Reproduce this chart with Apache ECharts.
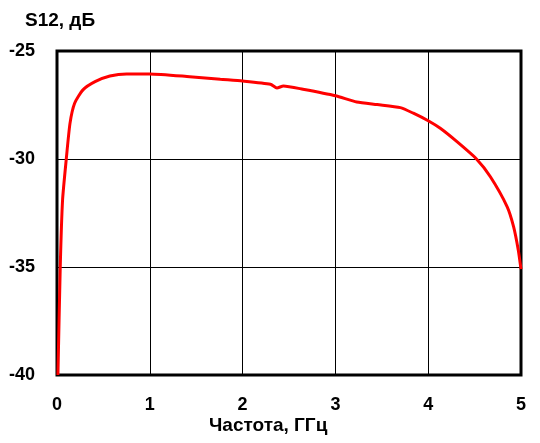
<!DOCTYPE html>
<html>
<head>
<meta charset="utf-8">
<script src="https://cdn.jsdelivr.net/npm/echarts@6/dist/echarts.min.js"></script>
<style>
  html, body { margin: 0; padding: 0; background: #fff; }
  #chart { width: 540px; height: 443px; }
</style>
</head>
<body>
<div id="chart"></div>
<script>
var freq = [0.01, 0.035, 0.06, 0.1, 0.14, 0.19, 0.28, 0.41, 0.57, 0.75, 1.0, 1.43, 1.76, 2.0, 2.3, 2.37, 2.44, 2.65, 3.0, 3.23, 3.45, 3.7, 3.84, 4.0, 4.13, 4.31, 4.52, 4.67, 4.85, 4.92, 4.97, 5.0];
var s12 = [-40, -35, -31.9, -30, -28.35, -27.42, -26.8, -26.42, -26.16, -26.06, -26.06, -26.19, -26.31, -26.39, -26.54, -26.71, -26.62, -26.77, -27.07, -27.36, -27.48, -27.62, -27.88, -28.23, -28.58, -29.2, -30.0, -30.82, -32.2, -33.13, -34.2, -35.1];

var points = [];
for (var i = 0; i < freq.length; i++) {
    points.push([freq[i], s12[i]]);
}

var font = 'Liberation Sans';
var myChart = echarts.init(document.getElementById('chart'));

var option = {
    animation: false,
    title: {
        text: 'S12, дБ',
        left: 20,
        top: 6,
        textStyle: { fontFamily: font, fontWeight: 'bold', fontSize: 19, color: '#000' }
    },
    graphic: [{
        type: 'text',
        left: 209,
        top: 416,
        style: { text: 'Частота, ГГц', font: 'bold 19px "Liberation Sans"', fill: '#000' }
    }],
    grid: {
        left: 57, right: 19, top: 51, bottom: 68,
        show: true, borderColor: '#000', borderWidth: 3
    },
    xAxis: {
        type: 'value', min: 0, max: 5, interval: 1,
        axisLine: { show: false },
        axisTick: { show: false },
        splitLine: { show: true, lineStyle: { color: '#000', width: 1 } },
        axisLabel: { margin: 21, color: '#000', fontFamily: font, fontWeight: 'bold', fontSize: 18 }
    },
    yAxis: {
        type: 'value', min: -40, max: -25, interval: 5,
        axisLine: { show: false },
        axisTick: { show: false },
        splitLine: { show: true, lineStyle: { color: '#000', width: 1 } },
        axisLabel: { margin: 22, color: '#000', fontFamily: font, fontWeight: 'bold', fontSize: 18 }
    },
    series: [{
        type: 'line',
        data: points,
        smooth: 0.2,
        showSymbol: false,
        lineStyle: { color: '#ff0000', width: 3 }
    }]
};

myChart.setOption(option);
</script>
</body>
</html>
